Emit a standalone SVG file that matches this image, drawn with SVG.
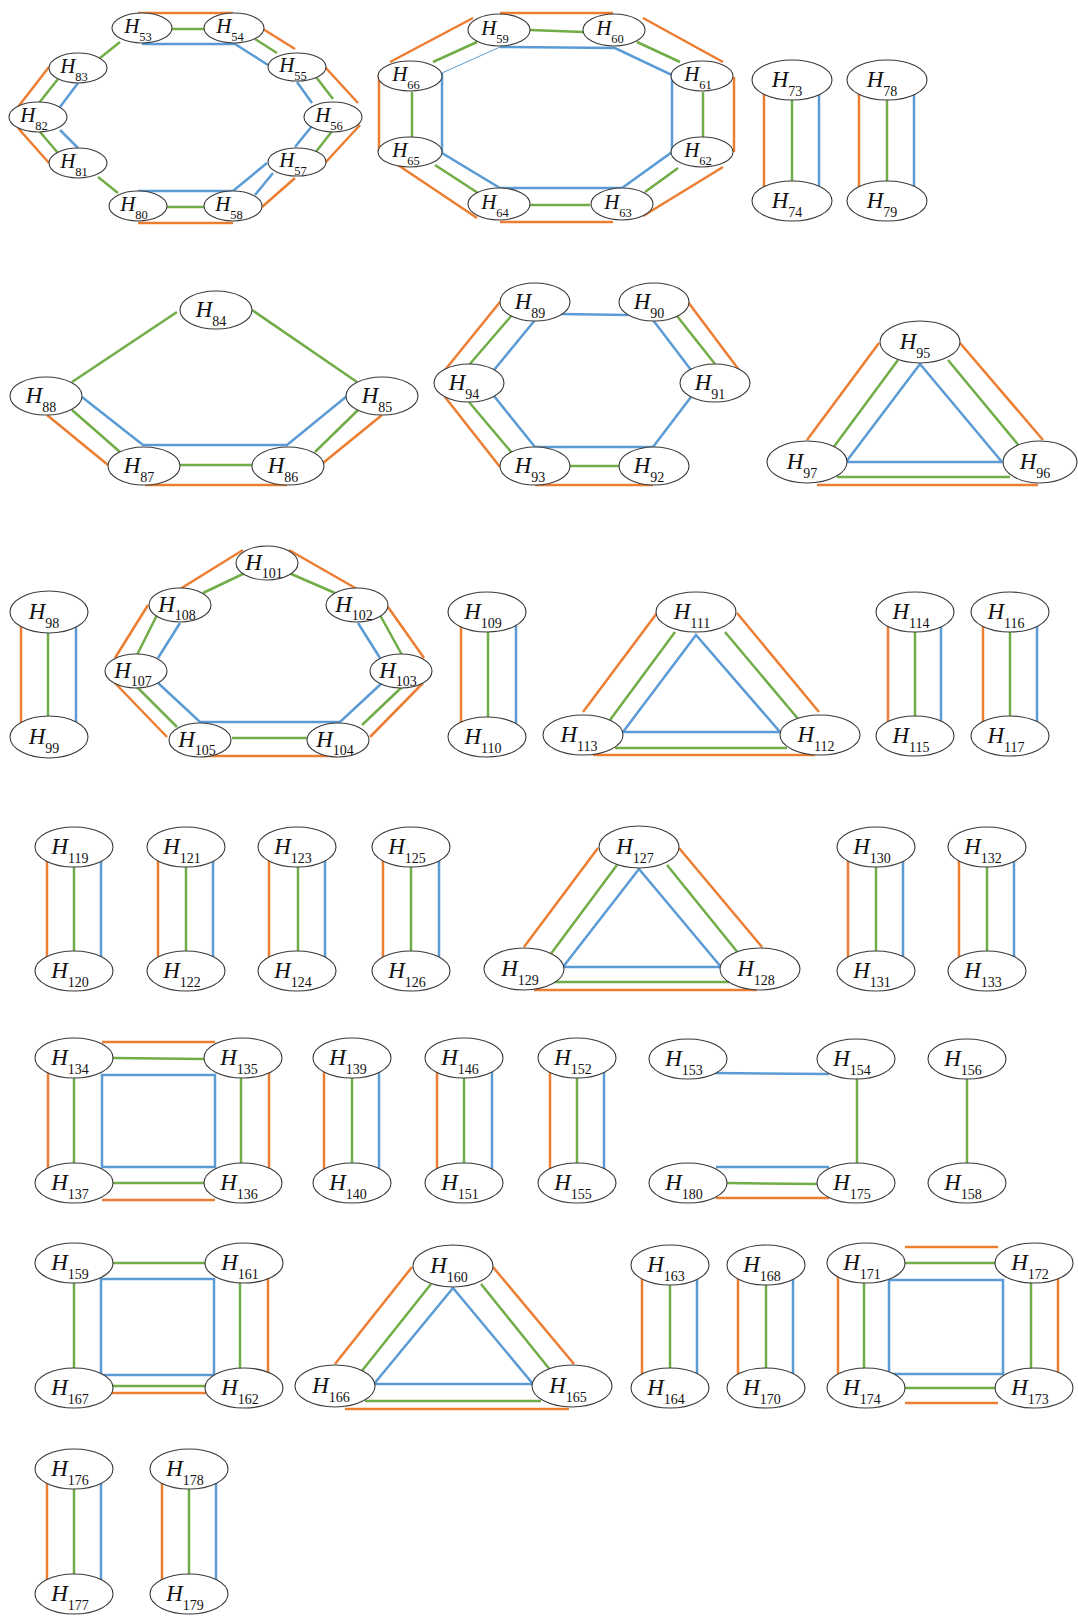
<svg xmlns="http://www.w3.org/2000/svg" width="1078" height="1616" viewBox="0 0 1078 1616">
<style>
.e{fill:#fff;stroke:#3a3a3a;stroke-width:1.1}
text{font-family:"Liberation Serif","Times New Roman",serif;font-style:italic;font-size:23px;text-anchor:middle;fill:#111}
text tspan{font-style:normal;font-size:14px}
.sm text{font-size:21px}
.sm text tspan{font-size:12.5px}
#edges line,#edges polyline,#edges polygon{stroke-width:2.5;fill:none}
.o{stroke:#ED7D31}.g{stroke:#70AD47}.b{stroke:#5B9BD5}
</style>
<rect width="1078" height="1616" fill="#fff"/>
<g id="edges">
<!-- group 1 -->
<g class="o"><line x1="138" y1="13" x2="233" y2="13"/><line x1="263" y1="29" x2="295" y2="49"/><line x1="325" y1="67" x2="358" y2="103"/><line x1="360" y1="125" x2="325" y2="163"/><line x1="295" y1="178" x2="262" y2="207"/><line x1="138" y1="223" x2="233" y2="223"/><line x1="18" y1="128" x2="49" y2="163"/><line x1="49" y1="67" x2="18" y2="107"/></g>
<g class="g"><line x1="172" y1="29" x2="204" y2="29"/><line x1="255" y1="39" x2="277" y2="53"/><line x1="316" y1="77" x2="333" y2="99"/><line x1="333" y1="130" x2="315" y2="153"/><line x1="167" y1="207" x2="204" y2="207"/><line x1="98" y1="177" x2="118" y2="193"/><line x1="40" y1="132" x2="58" y2="153"/><line x1="58" y1="79" x2="39" y2="103"/><line x1="100" y1="58" x2="120" y2="42"/></g>
<g class="b"><polyline points="142,44 235,44 268,65"/><line x1="297" y1="82" x2="312" y2="103"/><line x1="312" y1="126" x2="295" y2="147"/><polyline points="138,191 233,191 267,163"/><line x1="273" y1="173" x2="255" y2="195"/><line x1="60" y1="130" x2="78" y2="148"/><line x1="78" y1="83" x2="60" y2="107"/></g>
<!-- group 2 -->
<g class="o"><line x1="500" y1="13" x2="613" y2="13"/><line x1="643" y1="18" x2="723" y2="62"/><line x1="734" y1="77" x2="734" y2="152"/><line x1="723" y1="167" x2="643" y2="216"/><line x1="613" y1="222" x2="500" y2="222"/><line x1="477" y1="218" x2="380" y2="153"/><line x1="379" y1="152" x2="379" y2="75"/><line x1="390" y1="62" x2="473" y2="18"/></g>
<g class="g"><line x1="530" y1="30" x2="583" y2="32"/><line x1="637" y1="42" x2="680" y2="62"/><line x1="703" y1="92" x2="703" y2="137"/><line x1="678" y1="168" x2="645" y2="192"/><line x1="530" y1="205" x2="590" y2="205"/><line x1="478" y1="193" x2="435" y2="165"/><line x1="412" y1="92" x2="412" y2="137"/><line x1="433" y1="62" x2="477" y2="42"/></g>
<g class="b"><polyline points="500,47 615,48 672,75 672,152 622,188 500,188 442,153 442,73"/><line x1="442" y1="73" x2="500" y2="47" style="stroke-width:1"/></g>
<!-- group 3 -->
<g class="o"><line x1="764" y1="80" x2="764" y2="201"/><line x1="859" y1="80" x2="859" y2="201"/></g>
<g class="g"><line x1="792" y1="80" x2="792" y2="201"/><line x1="887" y1="80" x2="887" y2="201"/></g>
<g class="b"><line x1="819" y1="80" x2="819" y2="201"/><line x1="914" y1="80" x2="914" y2="201"/></g>
<!-- group 4 -->
<g class="g"><line x1="177" y1="312" x2="72" y2="382"/><line x1="252" y1="310" x2="357" y2="382"/><line x1="72" y1="410" x2="120" y2="452"/><line x1="180" y1="465" x2="252" y2="465"/><line x1="315" y1="452" x2="358" y2="410"/></g>
<g class="b"><polyline points="82,397 143,445 287,445 347,396"/></g>
<g class="o"><line x1="47" y1="415" x2="108" y2="465"/><line x1="145" y1="485" x2="287" y2="485"/><line x1="323" y1="463" x2="382" y2="415"/></g>
<!-- group 5 -->
<g class="b"><line x1="560" y1="314" x2="628" y2="315"/><line x1="653" y1="320" x2="691" y2="370"/><polyline points="691,397 653,447 535,447 494,396"/><line x1="494" y1="370" x2="535" y2="320"/></g>
<g class="g"><line x1="677" y1="316" x2="715" y2="364"/><line x1="512" y1="315" x2="469" y2="365"/><line x1="469" y1="402" x2="512" y2="453"/><line x1="569" y1="466" x2="619" y2="466"/></g>
<g class="o"><line x1="688" y1="302" x2="739" y2="370"/><line x1="500" y1="302" x2="445" y2="370"/><line x1="445" y1="397" x2="500" y2="467"/><line x1="535" y1="485" x2="653" y2="485"/></g>
<!-- group 6 -->
<g class="o"><line x1="879" y1="343" x2="807" y2="440"/><line x1="960" y1="343" x2="1043" y2="440"/><line x1="817" y1="485" x2="1038" y2="485"/></g>
<g class="g"><line x1="898" y1="360" x2="833" y2="448"/><line x1="948" y1="360" x2="1020" y2="447"/><line x1="837" y1="477" x2="1010" y2="477"/></g>
<g class="b"><polygon points="920,364 846,462 1002,462"/></g>
<!-- group 7,9,11,12 -->
<g class="o"><line x1="21" y1="612" x2="21" y2="737"/><line x1="461" y1="612" x2="461" y2="737"/><line x1="888" y1="612" x2="888" y2="736"/><line x1="983" y1="612" x2="983" y2="736"/></g>
<g class="g"><line x1="48" y1="612" x2="48" y2="737"/><line x1="488" y1="612" x2="488" y2="737"/><line x1="915" y1="612" x2="915" y2="736"/><line x1="1010" y1="612" x2="1010" y2="736"/></g>
<g class="b"><line x1="76" y1="612" x2="76" y2="737"/><line x1="516" y1="612" x2="516" y2="737"/><line x1="941" y1="612" x2="941" y2="736"/><line x1="1037" y1="612" x2="1037" y2="736"/></g>
<!-- group 8 -->
<g class="o"><line x1="243" y1="550" x2="180" y2="589"/><line x1="289" y1="550" x2="357" y2="589"/><line x1="388" y1="607" x2="424" y2="658"/><line x1="423" y1="683" x2="370" y2="737"/><line x1="200" y1="756" x2="338" y2="756"/><line x1="167" y1="737" x2="115" y2="683"/><line x1="115" y1="658" x2="148" y2="605"/></g>
<g class="g"><line x1="245" y1="573" x2="203" y2="593"/><line x1="289" y1="573" x2="335" y2="593"/><line x1="380" y1="615" x2="402" y2="655"/><line x1="402" y1="687" x2="362" y2="725"/><line x1="232" y1="738" x2="307" y2="738"/><line x1="177" y1="727" x2="137" y2="687"/><line x1="137" y1="655" x2="157" y2="615"/></g>
<g class="b"><line x1="358" y1="623" x2="380" y2="658"/><polyline points="382,683 340,722 200,722 157,682"/><line x1="158" y1="658" x2="180" y2="623"/></g>
<!-- group 10 -->
<g class="o"><line x1="657" y1="613" x2="583" y2="712"/><line x1="737" y1="613" x2="819" y2="712"/><line x1="593" y1="755" x2="815" y2="755"/></g>
<g class="g"><line x1="675" y1="632" x2="610" y2="720"/><line x1="725" y1="632" x2="799" y2="720"/><line x1="615" y1="748" x2="787" y2="748"/></g>
<g class="b"><polygon points="696,635 623,732 780,732"/></g>
<!-- row 4 pairs -->
<g class="o"><line x1="47" y1="847" x2="47" y2="971"/><line x1="158" y1="847" x2="158" y2="971"/><line x1="269" y1="847" x2="269" y2="971"/><line x1="383" y1="847" x2="383" y2="971"/><line x1="848" y1="847" x2="848" y2="971"/><line x1="959" y1="847" x2="959" y2="971"/></g>
<g class="g"><line x1="74" y1="847" x2="74" y2="971"/><line x1="186" y1="847" x2="186" y2="971"/><line x1="298" y1="847" x2="298" y2="971"/><line x1="411" y1="847" x2="411" y2="971"/><line x1="876" y1="847" x2="876" y2="971"/><line x1="987" y1="847" x2="987" y2="971"/></g>
<g class="b"><line x1="101" y1="847" x2="101" y2="971"/><line x1="213" y1="847" x2="213" y2="971"/><line x1="325" y1="847" x2="325" y2="971"/><line x1="439" y1="847" x2="439" y2="971"/><line x1="903" y1="847" x2="903" y2="971"/><line x1="1014" y1="847" x2="1014" y2="971"/></g>
<!-- triangle 127 -->
<g class="o"><line x1="598" y1="848" x2="524" y2="947"/><line x1="679" y1="848" x2="762" y2="947"/><line x1="534" y1="990" x2="757" y2="990"/></g>
<g class="g"><line x1="617" y1="865" x2="550" y2="955"/><line x1="667" y1="865" x2="739" y2="954"/><line x1="554" y1="982" x2="729" y2="982"/></g>
<g class="b"><polygon points="639,869 563,967 721,967"/></g>
<!-- square 134 -->
<g class="o"><line x1="102" y1="1042" x2="215" y2="1042"/><line x1="48" y1="1058" x2="48" y2="1183"/><line x1="269" y1="1058" x2="269" y2="1183"/><line x1="102" y1="1200" x2="215" y2="1200"/></g>
<g class="g"><line x1="113" y1="1058" x2="204" y2="1059"/><line x1="74" y1="1058" x2="74" y2="1183"/><line x1="241" y1="1058" x2="241" y2="1183"/><line x1="113" y1="1183" x2="204" y2="1183"/></g>
<g class="b"><polygon points="102,1075 215,1075 215,1167 102,1167"/></g>
<!-- row 5 pairs -->
<g class="o"><line x1="324" y1="1058" x2="324" y2="1183"/><line x1="437" y1="1058" x2="437" y2="1183"/><line x1="550" y1="1058" x2="550" y2="1183"/></g>
<g class="g"><line x1="352" y1="1058" x2="352" y2="1183"/><line x1="464" y1="1058" x2="464" y2="1183"/><line x1="577" y1="1058" x2="577" y2="1183"/><line x1="857" y1="1059" x2="857" y2="1183"/><line x1="967" y1="1059" x2="967" y2="1183"/><line x1="727" y1="1183" x2="817" y2="1184"/></g>
<g class="b"><line x1="379" y1="1058" x2="379" y2="1183"/><line x1="492" y1="1058" x2="492" y2="1183"/><line x1="604" y1="1058" x2="604" y2="1183"/><line x1="715" y1="1073" x2="829" y2="1074"/><line x1="716" y1="1167" x2="829" y2="1167"/></g>
<g class="o"><line x1="716" y1="1198" x2="829" y2="1198"/></g>
<!-- square 159 -->
<g class="g"><line x1="113" y1="1263" x2="205" y2="1263"/><line x1="74" y1="1263" x2="74" y2="1388"/><line x1="240" y1="1263" x2="240" y2="1388"/><line x1="113" y1="1386" x2="205" y2="1386"/></g>
<g class="o"><line x1="268" y1="1263" x2="268" y2="1388"/><line x1="104" y1="1393" x2="212" y2="1393"/></g>
<g class="b"><polygon points="101,1279 214,1279 214,1375 101,1375"/></g>
<!-- triangle 160 -->
<g class="o"><line x1="412" y1="1267" x2="335" y2="1364"/><line x1="493" y1="1267" x2="574" y2="1364"/><line x1="345" y1="1409" x2="569" y2="1409"/></g>
<g class="g"><line x1="431" y1="1284" x2="361" y2="1372"/><line x1="481" y1="1284" x2="551" y2="1371"/><line x1="365" y1="1401" x2="541" y2="1401"/></g>
<g class="b"><polygon points="453,1288 374,1384 533,1384"/></g>
<!-- row 6 pairs -->
<g class="o"><line x1="642" y1="1265" x2="642" y2="1388"/><line x1="738" y1="1265" x2="738" y2="1388"/></g>
<g class="g"><line x1="670" y1="1265" x2="670" y2="1388"/><line x1="766" y1="1265" x2="766" y2="1388"/></g>
<g class="b"><line x1="697" y1="1265" x2="697" y2="1388"/><line x1="793" y1="1265" x2="793" y2="1388"/></g>
<!-- square 171 -->
<g class="o"><line x1="905" y1="1247" x2="998" y2="1247"/><line x1="838" y1="1263" x2="838" y2="1388"/><line x1="1058" y1="1263" x2="1058" y2="1388"/><line x1="905" y1="1403" x2="998" y2="1403"/></g>
<g class="g"><line x1="905" y1="1263" x2="996" y2="1263"/><line x1="864" y1="1263" x2="864" y2="1388"/><line x1="1031" y1="1263" x2="1031" y2="1388"/><line x1="905" y1="1388" x2="996" y2="1388"/></g>
<g class="b"><polygon points="889,1280 1003,1280 1003,1374 889,1374"/></g>
<!-- row 7 pairs -->
<g class="o"><line x1="47" y1="1469" x2="47" y2="1594"/><line x1="162" y1="1469" x2="162" y2="1594"/></g>
<g class="g"><line x1="74" y1="1469" x2="74" y2="1594"/><line x1="189" y1="1469" x2="189" y2="1594"/></g>
<g class="b"><line x1="101" y1="1469" x2="101" y2="1594"/><line x1="216" y1="1469" x2="216" y2="1594"/></g>
</g>
<g id="nodes">
<g id="H53" class="sm"><ellipse class="e" cx="142" cy="28" rx="30" ry="15"/><text x="138" y="33">H<tspan dy="8">53</tspan></text></g>
<g id="H54" class="sm"><ellipse class="e" cx="234" cy="28" rx="30" ry="15"/><text x="230" y="33">H<tspan dy="8">54</tspan></text></g>
<g id="H55" class="sm"><ellipse class="e" cx="297" cy="67" rx="29" ry="14"/><text x="293" y="72">H<tspan dy="8">55</tspan></text></g>
<g id="H56" class="sm"><ellipse class="e" cx="333" cy="117" rx="29" ry="15"/><text x="329" y="122">H<tspan dy="8">56</tspan></text></g>
<g id="H57" class="sm"><ellipse class="e" cx="297" cy="162" rx="29" ry="14"/><text x="293" y="167">H<tspan dy="8">57</tspan></text></g>
<g id="H58" class="sm"><ellipse class="e" cx="233" cy="206" rx="29" ry="15"/><text x="229" y="211">H<tspan dy="8">58</tspan></text></g>
<g id="H80" class="sm"><ellipse class="e" cx="138" cy="206" rx="29" ry="15"/><text x="134" y="211">H<tspan dy="8">80</tspan></text></g>
<g id="H81" class="sm"><ellipse class="e" cx="78" cy="163" rx="29" ry="15"/><text x="74" y="168">H<tspan dy="8">81</tspan></text></g>
<g id="H82" class="sm"><ellipse class="e" cx="38" cy="117" rx="29" ry="15"/><text x="34" y="122">H<tspan dy="8">82</tspan></text></g>
<g id="H83" class="sm"><ellipse class="e" cx="78" cy="68" rx="29" ry="15"/><text x="74" y="73">H<tspan dy="8">83</tspan></text></g>
<g id="H59" class="sm"><ellipse class="e" cx="499" cy="30" rx="31" ry="16"/><text x="495" y="35">H<tspan dy="8">59</tspan></text></g>
<g id="H60" class="sm"><ellipse class="e" cx="614" cy="30" rx="31" ry="16"/><text x="610" y="35">H<tspan dy="8">60</tspan></text></g>
<g id="H61" class="sm"><ellipse class="e" cx="702" cy="76" rx="31" ry="15"/><text x="698" y="81">H<tspan dy="8">61</tspan></text></g>
<g id="H62" class="sm"><ellipse class="e" cx="702" cy="152" rx="31" ry="15"/><text x="698" y="157">H<tspan dy="8">62</tspan></text></g>
<g id="H63" class="sm"><ellipse class="e" cx="622" cy="204" rx="31" ry="16"/><text x="618" y="209">H<tspan dy="8">63</tspan></text></g>
<g id="H64" class="sm"><ellipse class="e" cx="499" cy="204" rx="31" ry="16"/><text x="495" y="209">H<tspan dy="8">64</tspan></text></g>
<g id="H65" class="sm"><ellipse class="e" cx="410" cy="152" rx="32" ry="15"/><text x="406" y="157">H<tspan dy="8">65</tspan></text></g>
<g id="H66" class="sm"><ellipse class="e" cx="410" cy="76" rx="32" ry="15"/><text x="406" y="81">H<tspan dy="8">66</tspan></text></g>
<g id="H73"><ellipse class="e" cx="792" cy="80" rx="40" ry="20"/><text x="787" y="87">H<tspan dy="9">73</tspan></text></g>
<g id="H74"><ellipse class="e" cx="792" cy="201" rx="40" ry="20"/><text x="787" y="208">H<tspan dy="9">74</tspan></text></g>
<g id="H78"><ellipse class="e" cx="887" cy="80" rx="40" ry="20"/><text x="882" y="87">H<tspan dy="9">78</tspan></text></g>
<g id="H79"><ellipse class="e" cx="887" cy="201" rx="40" ry="20"/><text x="882" y="208">H<tspan dy="9">79</tspan></text></g>
<g id="H84"><ellipse class="e" cx="216" cy="310" rx="36" ry="19"/><text x="211" y="317">H<tspan dy="9">84</tspan></text></g>
<g id="H88"><ellipse class="e" cx="46" cy="396" rx="36" ry="19"/><text x="41" y="403">H<tspan dy="9">88</tspan></text></g>
<g id="H85"><ellipse class="e" cx="382" cy="396" rx="36" ry="19"/><text x="377" y="403">H<tspan dy="9">85</tspan></text></g>
<g id="H87"><ellipse class="e" cx="144" cy="466" rx="36" ry="19"/><text x="139" y="473">H<tspan dy="9">87</tspan></text></g>
<g id="H86"><ellipse class="e" cx="288" cy="466" rx="36" ry="19"/><text x="283" y="473">H<tspan dy="9">86</tspan></text></g>
<g id="H89"><ellipse class="e" cx="535" cy="302" rx="35" ry="19"/><text x="530" y="309">H<tspan dy="9">89</tspan></text></g>
<g id="H90"><ellipse class="e" cx="654" cy="302" rx="35" ry="19"/><text x="649" y="309">H<tspan dy="9">90</tspan></text></g>
<g id="H91"><ellipse class="e" cx="715" cy="383" rx="35" ry="19"/><text x="710" y="390">H<tspan dy="9">91</tspan></text></g>
<g id="H92"><ellipse class="e" cx="654" cy="466" rx="35" ry="19"/><text x="649" y="473">H<tspan dy="9">92</tspan></text></g>
<g id="H93"><ellipse class="e" cx="535" cy="466" rx="35" ry="19"/><text x="530" y="473">H<tspan dy="9">93</tspan></text></g>
<g id="H94"><ellipse class="e" cx="469" cy="383" rx="35" ry="19"/><text x="464" y="390">H<tspan dy="9">94</tspan></text></g>
<g id="H95"><ellipse class="e" cx="920" cy="342" rx="40" ry="21"/><text x="915" y="349">H<tspan dy="9">95</tspan></text></g>
<g id="H97"><ellipse class="e" cx="807" cy="462" rx="40" ry="21"/><text x="802" y="469">H<tspan dy="9">97</tspan></text></g>
<g id="H96"><ellipse class="e" cx="1040" cy="462" rx="37" ry="21"/><text x="1035" y="469">H<tspan dy="9">96</tspan></text></g>
<g id="H98"><ellipse class="e" cx="49" cy="612" rx="39" ry="21"/><text x="44" y="619">H<tspan dy="9">98</tspan></text></g>
<g id="H99"><ellipse class="e" cx="49" cy="737" rx="39" ry="21"/><text x="44" y="744">H<tspan dy="9">99</tspan></text></g>
<g id="H101"><ellipse class="e" cx="267" cy="563" rx="31" ry="17"/><text x="264" y="570">H<tspan dy="8">101</tspan></text></g>
<g id="H102"><ellipse class="e" cx="357" cy="605" rx="31" ry="17"/><text x="354" y="612">H<tspan dy="8">102</tspan></text></g>
<g id="H103"><ellipse class="e" cx="401" cy="671" rx="31" ry="17"/><text x="398" y="678">H<tspan dy="8">103</tspan></text></g>
<g id="H104"><ellipse class="e" cx="338" cy="740" rx="31" ry="17"/><text x="335" y="747">H<tspan dy="8">104</tspan></text></g>
<g id="H105"><ellipse class="e" cx="200" cy="740" rx="31" ry="17"/><text x="197" y="747">H<tspan dy="8">105</tspan></text></g>
<g id="H107"><ellipse class="e" cx="136" cy="671" rx="31" ry="17"/><text x="133" y="678">H<tspan dy="8">107</tspan></text></g>
<g id="H108"><ellipse class="e" cx="180" cy="605" rx="31" ry="17"/><text x="177" y="612">H<tspan dy="8">108</tspan></text></g>
<g id="H109"><ellipse class="e" cx="487" cy="612" rx="39" ry="20"/><text x="483" y="619">H<tspan dy="9">109</tspan></text></g>
<g id="H110"><ellipse class="e" cx="487" cy="737" rx="39" ry="20"/><text x="483" y="744">H<tspan dy="9">110</tspan></text></g>
<g id="H111"><ellipse class="e" cx="696" cy="612" rx="40" ry="20"/><text x="692" y="619">H<tspan dy="9">111</tspan></text></g>
<g id="H113"><ellipse class="e" cx="583" cy="735" rx="40" ry="20"/><text x="579" y="742">H<tspan dy="9">113</tspan></text></g>
<g id="H112"><ellipse class="e" cx="820" cy="735" rx="40" ry="20"/><text x="816" y="742">H<tspan dy="9">112</tspan></text></g>
<g id="H114"><ellipse class="e" cx="915" cy="612" rx="39" ry="20"/><text x="911" y="619">H<tspan dy="9">114</tspan></text></g>
<g id="H115"><ellipse class="e" cx="915" cy="736" rx="39" ry="20"/><text x="911" y="743">H<tspan dy="9">115</tspan></text></g>
<g id="H116"><ellipse class="e" cx="1010" cy="612" rx="39" ry="20"/><text x="1006" y="619">H<tspan dy="9">116</tspan></text></g>
<g id="H117"><ellipse class="e" cx="1010" cy="736" rx="39" ry="20"/><text x="1006" y="743">H<tspan dy="9">117</tspan></text></g>
<g id="H119"><ellipse class="e" cx="74" cy="847" rx="39" ry="20"/><text x="70" y="854">H<tspan dy="9">119</tspan></text></g>
<g id="H120"><ellipse class="e" cx="74" cy="971" rx="39" ry="20"/><text x="70" y="978">H<tspan dy="9">120</tspan></text></g>
<g id="H121"><ellipse class="e" cx="186" cy="847" rx="39" ry="20"/><text x="182" y="854">H<tspan dy="9">121</tspan></text></g>
<g id="H122"><ellipse class="e" cx="186" cy="971" rx="39" ry="20"/><text x="182" y="978">H<tspan dy="9">122</tspan></text></g>
<g id="H123"><ellipse class="e" cx="297" cy="847" rx="39" ry="20"/><text x="293" y="854">H<tspan dy="9">123</tspan></text></g>
<g id="H124"><ellipse class="e" cx="297" cy="971" rx="39" ry="20"/><text x="293" y="978">H<tspan dy="9">124</tspan></text></g>
<g id="H125"><ellipse class="e" cx="411" cy="847" rx="39" ry="20"/><text x="407" y="854">H<tspan dy="9">125</tspan></text></g>
<g id="H126"><ellipse class="e" cx="411" cy="971" rx="39" ry="20"/><text x="407" y="978">H<tspan dy="9">126</tspan></text></g>
<g id="H127"><ellipse class="e" cx="639" cy="847" rx="40" ry="21"/><text x="635" y="854">H<tspan dy="9">127</tspan></text></g>
<g id="H129"><ellipse class="e" cx="524" cy="969" rx="40" ry="21"/><text x="520" y="976">H<tspan dy="9">129</tspan></text></g>
<g id="H128"><ellipse class="e" cx="760" cy="969" rx="40" ry="21"/><text x="756" y="976">H<tspan dy="9">128</tspan></text></g>
<g id="H130"><ellipse class="e" cx="876" cy="847" rx="39" ry="20"/><text x="872" y="854">H<tspan dy="9">130</tspan></text></g>
<g id="H131"><ellipse class="e" cx="876" cy="971" rx="39" ry="20"/><text x="872" y="978">H<tspan dy="9">131</tspan></text></g>
<g id="H132"><ellipse class="e" cx="987" cy="847" rx="39" ry="20"/><text x="983" y="854">H<tspan dy="9">132</tspan></text></g>
<g id="H133"><ellipse class="e" cx="987" cy="971" rx="39" ry="20"/><text x="983" y="978">H<tspan dy="9">133</tspan></text></g>
<g id="H134"><ellipse class="e" cx="74" cy="1058" rx="39" ry="20"/><text x="70" y="1065">H<tspan dy="9">134</tspan></text></g>
<g id="H135"><ellipse class="e" cx="243" cy="1058" rx="39" ry="20"/><text x="239" y="1065">H<tspan dy="9">135</tspan></text></g>
<g id="H137"><ellipse class="e" cx="74" cy="1183" rx="39" ry="20"/><text x="70" y="1190">H<tspan dy="9">137</tspan></text></g>
<g id="H136"><ellipse class="e" cx="243" cy="1183" rx="39" ry="20"/><text x="239" y="1190">H<tspan dy="9">136</tspan></text></g>
<g id="H139"><ellipse class="e" cx="352" cy="1058" rx="39" ry="20"/><text x="348" y="1065">H<tspan dy="9">139</tspan></text></g>
<g id="H140"><ellipse class="e" cx="352" cy="1183" rx="39" ry="20"/><text x="348" y="1190">H<tspan dy="9">140</tspan></text></g>
<g id="H146"><ellipse class="e" cx="464" cy="1058" rx="39" ry="20"/><text x="460" y="1065">H<tspan dy="9">146</tspan></text></g>
<g id="H151"><ellipse class="e" cx="464" cy="1183" rx="39" ry="20"/><text x="460" y="1190">H<tspan dy="9">151</tspan></text></g>
<g id="H152"><ellipse class="e" cx="577" cy="1058" rx="39" ry="20"/><text x="573" y="1065">H<tspan dy="9">152</tspan></text></g>
<g id="H155"><ellipse class="e" cx="577" cy="1183" rx="39" ry="20"/><text x="573" y="1190">H<tspan dy="9">155</tspan></text></g>
<g id="H153"><ellipse class="e" cx="688" cy="1059" rx="39" ry="20"/><text x="684" y="1066">H<tspan dy="9">153</tspan></text></g>
<g id="H154"><ellipse class="e" cx="856" cy="1059" rx="39" ry="20"/><text x="852" y="1066">H<tspan dy="9">154</tspan></text></g>
<g id="H180"><ellipse class="e" cx="688" cy="1183" rx="39" ry="20"/><text x="684" y="1190">H<tspan dy="9">180</tspan></text></g>
<g id="H175"><ellipse class="e" cx="856" cy="1183" rx="39" ry="20"/><text x="852" y="1190">H<tspan dy="9">175</tspan></text></g>
<g id="H156"><ellipse class="e" cx="967" cy="1059" rx="39" ry="20"/><text x="963" y="1066">H<tspan dy="9">156</tspan></text></g>
<g id="H158"><ellipse class="e" cx="967" cy="1183" rx="39" ry="20"/><text x="963" y="1190">H<tspan dy="9">158</tspan></text></g>
<g id="H159"><ellipse class="e" cx="74" cy="1263" rx="39" ry="20"/><text x="70" y="1270">H<tspan dy="9">159</tspan></text></g>
<g id="H161"><ellipse class="e" cx="244" cy="1263" rx="39" ry="20"/><text x="240" y="1270">H<tspan dy="9">161</tspan></text></g>
<g id="H167"><ellipse class="e" cx="74" cy="1388" rx="39" ry="20"/><text x="70" y="1395">H<tspan dy="9">167</tspan></text></g>
<g id="H162"><ellipse class="e" cx="244" cy="1388" rx="39" ry="20"/><text x="240" y="1395">H<tspan dy="9">162</tspan></text></g>
<g id="H160"><ellipse class="e" cx="453" cy="1266" rx="40" ry="21"/><text x="449" y="1273">H<tspan dy="9">160</tspan></text></g>
<g id="H166"><ellipse class="e" cx="335" cy="1386" rx="40" ry="21"/><text x="331" y="1393">H<tspan dy="9">166</tspan></text></g>
<g id="H165"><ellipse class="e" cx="572" cy="1386" rx="40" ry="21"/><text x="568" y="1393">H<tspan dy="9">165</tspan></text></g>
<g id="H163"><ellipse class="e" cx="670" cy="1265" rx="39" ry="20"/><text x="666" y="1272">H<tspan dy="9">163</tspan></text></g>
<g id="H164"><ellipse class="e" cx="670" cy="1388" rx="39" ry="20"/><text x="666" y="1395">H<tspan dy="9">164</tspan></text></g>
<g id="H168"><ellipse class="e" cx="766" cy="1265" rx="39" ry="20"/><text x="762" y="1272">H<tspan dy="9">168</tspan></text></g>
<g id="H170"><ellipse class="e" cx="766" cy="1388" rx="39" ry="20"/><text x="762" y="1395">H<tspan dy="9">170</tspan></text></g>
<g id="H171"><ellipse class="e" cx="866" cy="1263" rx="39" ry="20"/><text x="862" y="1270">H<tspan dy="9">171</tspan></text></g>
<g id="H172"><ellipse class="e" cx="1034" cy="1263" rx="39" ry="20"/><text x="1030" y="1270">H<tspan dy="9">172</tspan></text></g>
<g id="H174"><ellipse class="e" cx="866" cy="1388" rx="39" ry="20"/><text x="862" y="1395">H<tspan dy="9">174</tspan></text></g>
<g id="H173"><ellipse class="e" cx="1034" cy="1388" rx="39" ry="20"/><text x="1030" y="1395">H<tspan dy="9">173</tspan></text></g>
<g id="H176"><ellipse class="e" cx="74" cy="1469" rx="39" ry="20"/><text x="70" y="1476">H<tspan dy="9">176</tspan></text></g>
<g id="H177"><ellipse class="e" cx="74" cy="1594" rx="39" ry="20"/><text x="70" y="1601">H<tspan dy="9">177</tspan></text></g>
<g id="H178"><ellipse class="e" cx="189" cy="1469" rx="39" ry="20"/><text x="185" y="1476">H<tspan dy="9">178</tspan></text></g>
<g id="H179"><ellipse class="e" cx="189" cy="1594" rx="39" ry="20"/><text x="185" y="1601">H<tspan dy="9">179</tspan></text></g>
</g>
</svg>
